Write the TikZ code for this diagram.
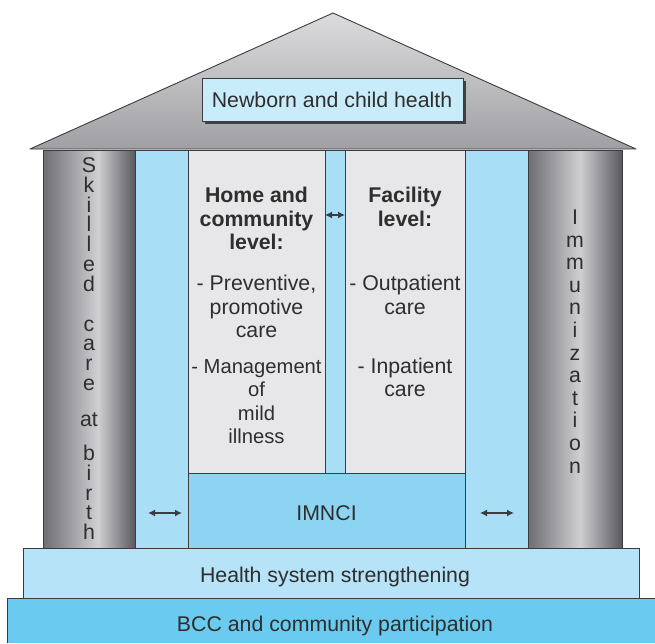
\documentclass[tikz,border=0pt]{standalone}
\usepackage{fontspec}
\setmainfont{Liberation Sans}
\usetikzlibrary{arrows.meta}
\definecolor{txt}{HTML}{2E2E2E}
\definecolor{edge}{HTML}{3C3C40}
\definecolor{strip}{HTML}{A8DEF6}
\definecolor{imnci}{HTML}{8DD4F2}
\definecolor{hss}{HTML}{B6E3F8}
\definecolor{bcc}{HTML}{6ACAEF}
\definecolor{nbox}{HTML}{C8ECFA}
\definecolor{gbox}{HTML}{E7E7E9}
\definecolor{pdarkL}{HTML}{6E6E72}
\definecolor{pdarkR}{HTML}{5A5A5E}
\definecolor{plight}{HTML}{CFCFD2}
\definecolor{roofT}{HTML}{DCDCDE}
\definecolor{roofB}{HTML}{A0A0A4}
\begin{document}
\begin{tikzpicture}[x=1pt,y=-1pt,
  every node/.style={inner sep=0pt, text=txt},
  lbl/.style={font=\fontsize{21.3}{23.5}\selectfont},
  sml/.style={font=\fontsize{20.2}{23.5}\selectfont},
  bld/.style={font=\fontsize{21.3}{23.5}\selectfont\bfseries},
  outl/.style={draw=edge, line width=0.9pt},
  arr/.style={{Latex[length=7pt,width=7pt]}-{Latex[length=7pt,width=7pt]}, line width=1.4pt, draw=edge}]
\useasboundingbox (0,0) rectangle (655,643);
\fill[white] (0,0) rectangle (655,643);
% base bands
\fill[bcc] (7,598) rectangle (655,643);
\draw[outl] (7,643) -- (7,598) -- (655,598);
\draw[outl, fill=hss] (23,548) rectangle (639,598);
% pillars
\shade[left color=pdarkL, right color=plight] (43,150) rectangle (98,548);
\shade[left color=plight, right color=pdarkR] (98,150) rectangle (135,548);
\draw[outl] (43,150) rectangle (135,548);
\shade[left color=pdarkL, right color=plight] (528,150) rectangle (580,548);
\shade[left color=plight, right color=pdarkR] (580,150) rectangle (622,548);
\draw[outl] (528,150) rectangle (622,548);
% blue strips
\draw[outl, fill=strip] (135,150) rectangle (188,548);
\draw[outl, fill=strip] (465,150) rectangle (528,548);
\draw[outl, fill=strip] (325,150) rectangle (345,473);
% grey boxes and IMNCI
\draw[outl, fill=gbox] (188,150) rectangle (325,473);
\draw[outl, fill=gbox] (345,150) rectangle (465,473);
\draw[outl, fill=imnci] (188,473) rectangle (465,548);
% roof
\shade[top color=roofT, bottom color=roofB] (30,149) -- (333,13) -- (636,149) -- cycle;
\draw[outl, line join=round] (30,149) -- (333,13) -- (636,149) -- cycle;
% newborn box
\fill[black!75] (204.5,80.5) rectangle (466,123.5);
\draw[outl, fill=nbox] (202,78) rectangle (463.5,121);
\node[lbl, anchor=base] (nb) at (332,107) {Newborn and child health};
% named points
\coordinate (homeE) at (325,215);
\coordinate (facW) at (345,215);
\coordinate (la) at (148,513);
\coordinate (lb) at (182,513);
\coordinate (ra) at (480,513);
\coordinate (rb) at (514,513);
\draw[arr] (homeE) -- (facW);
\draw[arr] (la) -- (lb);
\draw[arr] (ra) -- (rb);
% texts (base anchor = baseline of the last line)
\node[lbl, anchor=base] (im) at (326.5,520) {IMNCI};
\node[lbl, anchor=base] (hs) at (335,582) {Health system strengthening};
\node[lbl, anchor=base] (bc) at (335,631) {BCC and community participation};
\node[bld, anchor=base, align=center] (homeh) at (256.5,249.5) {Home and\\community\\level:};
\node[lbl, anchor=base, align=center] (prev) at (256.5,337.5) {- Preventive,\\promotive\\care};
\node[sml, anchor=base, align=center] (mgmt) at (256.5,443.5) {- Management\\of\\mild\\illness};
\node[bld, anchor=base, align=center] (fach) at (405,226) {Facility\\level:};
\node[lbl, anchor=base, align=center] (outp) at (405,314) {- Outpatient\\care};
\node[lbl, anchor=base, align=center] (inp) at (405,396.5) {- Inpatient\\care};
% pillar letters
\foreach \ch/\yy [count=\i] in {S/172.5,k/192.3,i/212.1,l/231.9,l/251.7,e/271.5,d/291.3,c/331,a/350.8,r/370.6,e/390.4,at/426,b/460.5,i/480.3,r/500.1,t/519.9,h/539.7}
  \node[lbl, anchor=base] (sk\i) at (89,\yy) {\ch};
\foreach \ch [count=\i from 0] in {I,m,m,u,n,i,z,a,t,i,o,n}
  \node[lbl, anchor=base] (imm\i) at (575,224.5+22.6*\i) {\ch};
\end{tikzpicture}
\end{document}
